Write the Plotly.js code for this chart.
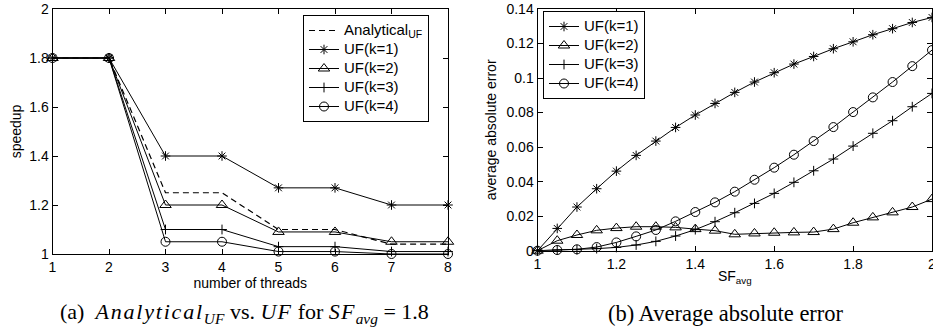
<!DOCTYPE html>
<html>
<head>
<meta charset="utf-8">
<script src="https://cdn.plot.ly/plotly-3.0.1.min.js"></script>
<style>
  html, body { margin: 0; padding: 0; background: #fff; }
  #chart { width: 933px; height: 329px; }
</style>
</head>
<body>
<div id="chart"></div>
<script>
// (a) speedup against number of threads, SF_avg = 1.8
const threads = [1, 2, 3, 4, 5, 6, 7, 8];
const analyticalUF = [1.8, 1.8, 1.25, 1.25, 1.10, 1.10, 1.04, 1.04];
const speedupK1 = [1.8, 1.8, 1.40, 1.40, 1.27, 1.27, 1.20, 1.20];
const speedupK2 = [1.8, 1.8, 1.20, 1.20, 1.09, 1.09, 1.05, 1.05];
const speedupK3 = [1.8, 1.8, 1.10, 1.10, 1.03, 1.03, 1.01, 1.01];
const speedupK4 = [1.8, 1.8, 1.05, 1.05, 1.01, 1.01, 1.00, 1.00];

// (b) average absolute error against SF_avg
const sfAvg = [1.00, 1.05, 1.10, 1.15, 1.20, 1.25, 1.30, 1.35, 1.40, 1.45, 1.50,
               1.55, 1.60, 1.65, 1.70, 1.75, 1.80, 1.85, 1.90, 1.95, 2.00];
const errK1 = [0, 0.0129, 0.0253, 0.0359, 0.0461, 0.0552, 0.0635, 0.0714, 0.0786, 0.0853, 0.0917,
               0.0977, 0.1031, 0.1081, 0.1125, 0.1170, 0.1210, 0.1251, 0.1286, 0.1322, 0.1351];
const errK2 = [0, 0.0058, 0.0091, 0.0118, 0.0131, 0.0139, 0.0139, 0.0135, 0.0125, 0.0116, 0.0095,
               0.0100, 0.0104, 0.0106, 0.0108, 0.0125, 0.0162, 0.0193, 0.0222, 0.0253, 0.0299];
const errK3 = [0, 0.0004, 0.0006, 0.0012, 0.0019, 0.0033, 0.0054, 0.0085, 0.0122, 0.0168, 0.0220,
               0.0274, 0.0332, 0.0396, 0.0463, 0.0531, 0.0606, 0.0680, 0.0753, 0.0834, 0.0911];
const errK4 = [0, 0.0004, 0.0008, 0.0021, 0.0048, 0.0083, 0.0120, 0.0170, 0.0224, 0.0280, 0.0342,
               0.0411, 0.0481, 0.0556, 0.0635, 0.0716, 0.0803, 0.0888, 0.0977, 0.1069, 0.1162];

const seriesNames = ['UF(k=1)', 'UF(k=2)', 'UF(k=3)', 'UF(k=4)'];
const analyticalName = 'Analytical<sub>UF</sub>';

const ink = '#000';
const sans = 'Liberation Sans, Arial, sans-serif';
const serif = 'Liberation Serif, Times New Roman, serif';
const markerStyles = [
  { symbol: 'asterisk-open', size: 8 },
  { symbol: 'triangle-up-open', size: 10 },
  { symbol: 'cross-thin-open', size: 7 },
  { symbol: 'circle-open', size: 9 }
];

// legend rows are spaced by the 12px legend font; the labels themselves are set larger
const legendLabel = (s) => '<span style="font-size:15px">' + s + '</span>';

function series(x, y, name, idx, xa, ya, legend) {
  const m = markerStyles[idx];
  return {
    x: x, y: y, name: legendLabel(name), type: 'scatter', mode: 'lines+markers',
    xaxis: xa, yaxis: ya, legend: legend, cliponaxis: false,
    line: { color: ink, width: 1 },
    marker: { symbol: m.symbol, size: m.size, color: ink, line: { color: ink, width: 1 } }
  };
}

const speedups = [speedupK1, speedupK2, speedupK3, speedupK4];
const errors = [errK1, errK2, errK3, errK4];

const traces = [{
  x: threads, y: analyticalUF, name: legendLabel(analyticalName), type: 'scatter', mode: 'lines',
  xaxis: 'x', yaxis: 'y', legend: 'legend', cliponaxis: false,
  line: { color: ink, width: 1.2, dash: '6px,4px' }
}];
speedups.forEach((s, i) => traces.push(series(threads, s, seriesNames[i], i, 'x', 'y', 'legend')));
errors.forEach((e, i) => traces.push(series(sfAvg, e, seriesNames[i], i, 'x2', 'y2', 'legend2')));

const W = 933, H = 329;
const axisBase = {
  showline: true, linecolor: ink, linewidth: 1, mirror: 'ticks',
  ticks: 'inside', ticklen: 5, tickcolor: ink, tickwidth: 1,
  showgrid: false, zeroline: false, ticklabeloverflow: 'allow',
  tickfont: { family: sans, size: 14, color: ink },
  title: { font: { family: sans, size: 14, color: ink } }
};

function axis(extra) {
  const a = JSON.parse(JSON.stringify(axisBase));
  return Object.assign(a, extra, { title: Object.assign(a.title, extra.title || {}) });
}

const legendBase = {
  bgcolor: '#fff', bordercolor: ink, borderwidth: 1,
  font: { family: sans, size: 12, color: ink },
  xanchor: 'left', yanchor: 'top', tracegroupgap: 0
};

// italic math runs are spaced out a little, like TeX math italic
const mi = (s, sp) => '<i><span style="font-family:Liberation Serif, serif;font-style:italic;letter-spacing:' +
                      sp + 'px">' + s + '</span></i>';
const captionA = '(a)\u2002' + mi('Analytical', 1.8) + '<sub><i>UF</i></sub> vs. ' + mi('UF', 1.2) +
                 ' for ' + mi('SF', 1.2) + '<sub><i>avg</i></sub> = 1.8';
const captionB = '(b) Average absolute error';

const layout = {
  width: W, height: H,
  margin: { l: 0, r: 0, t: 0, b: 0 },
  paper_bgcolor: '#fff', plot_bgcolor: '#fff',
  showlegend: true,
  xaxis: axis({ domain: [52.5 / W, 448 / W], anchor: 'y', range: [1, 8], dtick: 1, tick0: 1,
                title: { text: 'number of threads', standoff: 4 } }),
  yaxis: axis({ domain: [1 - 254 / H, 1 - 9 / H], anchor: 'x', range: [1, 2], dtick: 0.2, tick0: 1,
                title: { text: 'speedup', standoff: 4 } }),
  xaxis2: axis({ domain: [537.5 / W, 932 / W], anchor: 'y2', range: [1, 2], dtick: 0.2, tick0: 1,
                 title: { text: 'SF<sub>avg</sub>', standoff: 0 } }),
  yaxis2: axis({ domain: [1 - 250.7 / H, 1 - 9 / H], anchor: 'x2', range: [0, 0.14], dtick: 0.02, tick0: 0,
                 title: { text: 'average absolute error', standoff: 6 } }),
  legend: Object.assign({ x: 303 / W, y: 1 - 15 / H }, legendBase),
  legend2: Object.assign({ x: 543 / W, y: 1 - 11 / H }, legendBase),
  annotations: [
    {
      text: captionA, xref: 'paper', yref: 'paper', x: 244 / W, y: 1 - 313 / H,
      xanchor: 'center', yanchor: 'middle', showarrow: false,
      font: { family: serif, size: 22, color: ink }
    },
    {
      text: captionB, xref: 'paper', yref: 'paper', x: 726 / W, y: 1 - 313 / H,
      xanchor: 'center', yanchor: 'middle', showarrow: false,
      font: { family: serif, size: 22.5, color: ink }
    }
  ]
};

Plotly.newPlot('chart', traces, layout, { displayModeBar: false, staticPlot: true });
</script>
</body>
</html>
